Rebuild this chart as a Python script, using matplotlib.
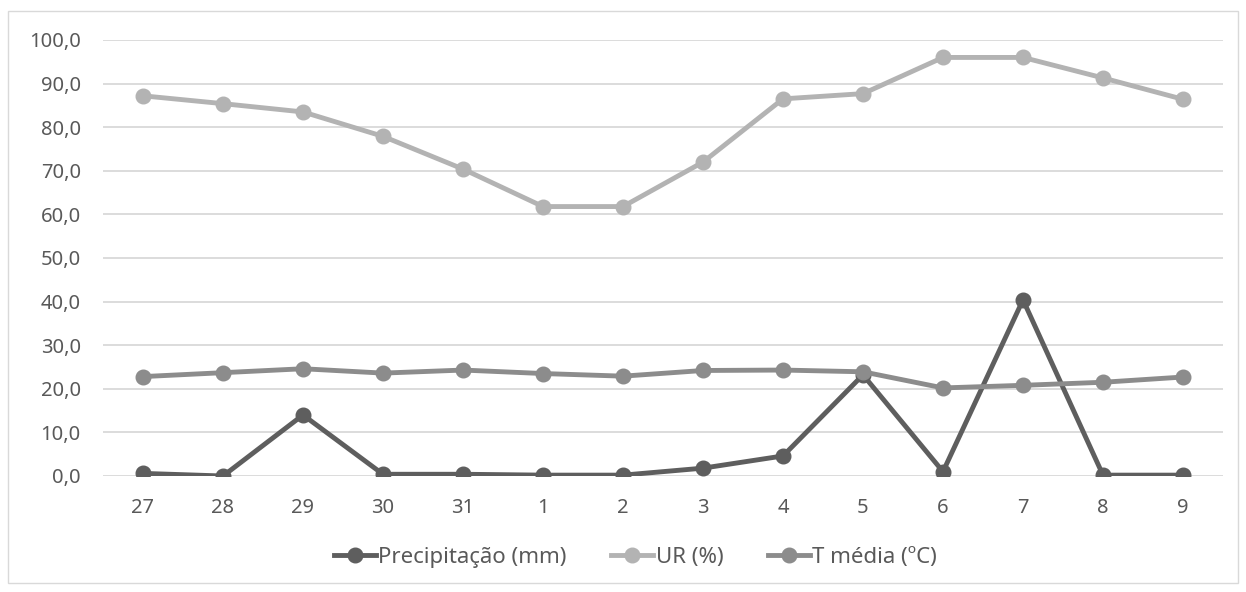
import matplotlib.pyplot as plt
from matplotlib.patches import Rectangle

plt.rcParams['font.family'] = ['Noto Sans', 'DejaVu Sans']

# dias
dias = ['27', '28', '29', '30', '31', '1', '2', '3', '4', '5', '6', '7', '8', '9']
precip = [0.6, 0.0, 14.0, 0.4, 0.4, 0.2, 0.2, 1.8, 4.6, 23.2, 1.0, 40.4, 0.2, 0.2]
ur = [87.2, 85.4, 83.5, 77.9, 70.4, 61.8, 61.8, 72.0, 86.5, 87.7, 96.0, 96.0, 91.3, 86.4]
t_media = [22.8, 23.7, 24.6, 23.6, 24.3, 23.5, 22.9, 24.2, 24.3, 23.9, 20.2, 20.8, 21.5, 22.7]

fig = plt.figure(figsize=(12.46, 5.92), dpi=100)
ax = fig.add_axes([103 / 1246, 1 - 476 / 592, 1120 / 1246, 436 / 592])

x = range(len(dias))
ax.plot(x, precip, color='#5e5e5e', lw=3.5, marker='o', ms=10.5, label='Precipitação (mm)', zorder=3)
ax.plot(x, ur, color='#b3b3b3', lw=3.5, marker='o', ms=10.5, label='UR (%)', zorder=3)
ax.plot(x, t_media, color='#8c8c8c', lw=3.5, marker='o', ms=10.5, label='T média (ºC)', zorder=3)

ax.set_xlim(-0.5, len(dias) - 0.5)
ax.set_ylim(0, 100)
ax.set_yticks(range(0, 101, 10))
ax.set_yticklabels([f'{v},0' for v in range(0, 101, 10)])
ax.set_xticks(list(x))
ax.set_xticklabels(dias)
ax.grid(axis='y', color='#d9d9d9', lw=1.3)
ax.set_axisbelow(True)
for s in ax.spines.values():
    s.set_visible(False)
ax.tick_params(length=0, labelsize=14.5, colors='#595959', pad=16)
ax.tick_params(axis='y', pad=16)

fig.legend(loc='center', bbox_to_anchor=(0.51, 1 - 557 / 592), ncol=3, frameon=False,
           fontsize=16, labelcolor='#595959', handlelength=1.9, handletextpad=0.1,
           columnspacing=2.0)

fig.patches.append(Rectangle((8 / 1246, 1 - 583 / 592), 1230 / 1246, 572 / 592,
                             transform=fig.transFigure, fill=False, edgecolor='#d9d9d9', lw=1))

fig.savefig('out.png', dpi=100)
